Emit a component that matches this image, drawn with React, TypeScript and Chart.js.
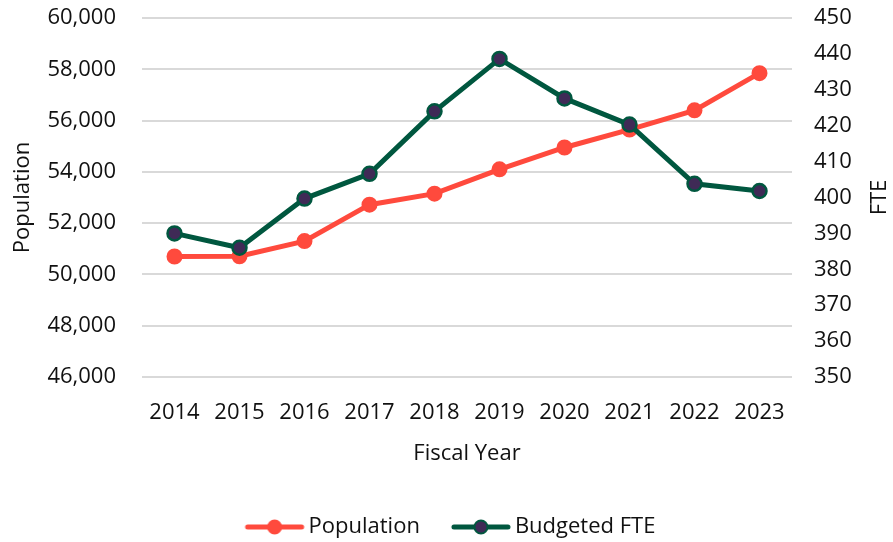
import React, { useEffect, useRef } from "react";
import { Chart, registerables } from "chart.js";

Chart.register(...registerables);

const years = ["2014", "2015", "2016", "2017", "2018", "2019", "2020", "2021", "2022", "2023"];
const population = [50700, 50710, 51300, 52720, 53150, 54100, 54950, 55650, 56400, 57850];
const budgetedFte = [390, 386, 399.7, 406.6, 424, 438.6, 427.6, 420.3, 403.8, 401.8];

const RED = "#FF4A3D";
const GREEN = "#00573F";
const PURPLE = "#3F2A56";
const TEXT = "#111111";
const FONT = "'Open Sans', 'Noto Sans', sans-serif";
const FS = 22;

function legendImage(line: string, fill: string, border: string) {
  const c = document.createElement("canvas");
  c.width = 70;
  c.height = 18;
  const ctx = c.getContext("2d")!;
  ctx.strokeStyle = line;
  ctx.lineWidth = 5;
  ctx.lineCap = "round";
  ctx.beginPath();
  ctx.moveTo(11, 9);
  ctx.lineTo(65, 9);
  ctx.stroke();
  ctx.beginPath();
  ctx.arc(38, 9, 6.5, 0, Math.PI * 2);
  ctx.fillStyle = fill;
  ctx.fill();
  ctx.lineWidth = 2;
  ctx.strokeStyle = border;
  ctx.stroke();
  return c;
}

const rightTitle = {
  id: "rightTitle",
  afterLayout(chart: any) {
    if (chart.legend) {
      chart.legend.left += 4;
      chart.legend.right += 4;
    }
  },
  afterDraw(chart: any) {
    const { ctx, chartArea } = chart;
    ctx.save();
    ctx.translate(880, (chartArea.top + chartArea.bottom) / 2);
    ctx.rotate(-Math.PI / 2);
    ctx.font = `${FS}px ${FONT}`;
    ctx.fillStyle = TEXT;
    ctx.textAlign = "center";
    ctx.textBaseline = "middle";
    ctx.fillText("FTE", 0, 0);
    ctx.restore();
  },
};

export default function App() {
  const ref = useRef<HTMLCanvasElement>(null);
  useEffect(() => {
    const imgs = [legendImage(RED, RED, RED), legendImage(GREEN, PURPLE, GREEN)];
    const chart = new Chart(ref.current!, {
      type: "line",
      data: {
        labels: years,
        datasets: [
          {
            label: "Population",
            data: population,
            yAxisID: "y",
            order: 1,
            borderColor: RED,
            backgroundColor: RED,
            borderWidth: 5,
            pointRadius: 7,
            pointBorderWidth: 2,
            pointBackgroundColor: RED,
            pointBorderColor: RED,
            tension: 0,
          },
          {
            label: "Budgeted FTE",
            data: budgetedFte,
            yAxisID: "y1",
            order: 0,
            borderColor: GREEN,
            backgroundColor: PURPLE,
            borderWidth: 5,
            pointRadius: 7,
            pointBorderWidth: 2.5,
            pointBackgroundColor: PURPLE,
            pointBorderColor: GREEN,
            tension: 0,
          },
        ],
      },
      options: {
        animation: false,
        responsive: false,
        maintainAspectRatio: false,
        layout: { padding: { top: 0, left: 0, right: 0, bottom: -6 } },
        font: { family: FONT, size: FS },
        color: TEXT,
        plugins: {
          tooltip: { enabled: false },
          legend: {
            position: "bottom",
            labels: {
              usePointStyle: true,
              pointStyleWidth: 52,
              boxHeight: 18,
              color: TEXT,
              padding: 32,
              font: { family: FONT, size: FS },
              generateLabels: (ch: any) => {
                const items = Chart.defaults.plugins.legend.labels.generateLabels(ch);
                return items
                  .map((it: any) => ({ ...it, pointStyle: imgs[it.datasetIndex] }))
                  .sort((a: any, b: any) => a.datasetIndex - b.datasetIndex);
              },
            },
          },
        },
        scales: {
          x: {
            offset: true,
            grid: { display: false, drawTicks: false },
            border: { display: false },
            ticks: { color: TEXT, font: { family: FONT, size: FS }, padding: 23, maxRotation: 0 },
            title: { display: true, text: "Fiscal Year", color: TEXT, font: { family: FONT, size: FS }, padding: { top: 3, bottom: 17 } },
            afterFit: (s: any) => {
              s.height = 107;
            },
          },
          y: {
            position: "left",
            min: 46000,
            max: 60000,
            ticks: {
              stepSize: 2000,
              color: TEXT,
              padding: 26,
              font: { family: FONT, size: FS },
              callback: (v: any) => Number(v).toLocaleString("en-US"),
            },
            grid: { color: "#D9D9D9", lineWidth: 2, drawTicks: false },
            border: { display: false },
            title: { display: true, text: "Population", color: TEXT, font: { family: FONT, size: FS }, padding: { top: 10, bottom: 0 } },
            afterFit: (s: any) => {
              s.width = 142;
              s.paddingTop = 18;
              s.paddingBottom = 0;
            },
          },
          y1: {
            position: "right",
            min: 350,
            max: 450,
            ticks: { stepSize: 10, color: TEXT, padding: 22, font: { family: FONT, size: FS } },
            grid: { display: false, drawTicks: false },
            border: { display: false },
            afterFit: (s: any) => {
              s.width = 101;
              s.paddingTop = 18;
              s.paddingBottom = 0;
            },
          },
        },
      },
      plugins: [rightTitle],
    });
    return () => chart.destroy();
  }, []);
  return (
    <div style={{ position: "fixed", left: 0, top: 0, width: 893, height: 542, background: "#fff" }}>
      <canvas ref={ref} width={893} height={542} style={{ width: 893, height: 542 }} />
    </div>
  );
}
